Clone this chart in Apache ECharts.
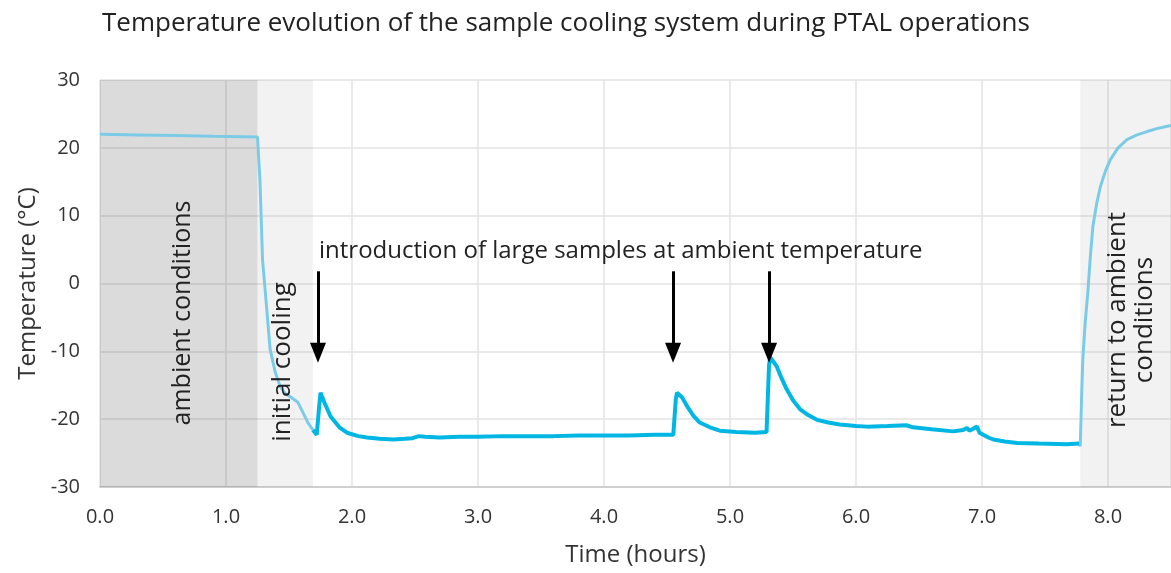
<!DOCTYPE html>
<html><head><meta charset="utf-8">
<script src="https://cdn.jsdelivr.net/npm/echarts@6/dist/echarts.min.js"></script>
<style>html,body{margin:0;padding:0;background:#fff}#c{width:1171px;height:573px}</style>
</head><body><div id="c"></div>
<script>
// Data (time in hours, temperature in °C)
var ambientCooling = [[0,22.0],[0.3,21.9],[0.6,21.8],[0.9,21.7],[1.25,21.6],[1.27,15],[1.29,3.5],[1.32,-3],[1.35,-9.7],[1.39,-13],[1.43,-15.2],[1.47,-16.2],[1.51,-16.7],[1.57,-17.5],[1.61,-19],[1.65,-20.5],[1.69,-21.6]];
var operations = [[1.69,-21.6],[1.72,-22.3],[1.74,-18],[1.75,-16.1],[1.78,-17.5],[1.83,-19.6],[1.9,-21.2],[1.96,-22],[2.05,-22.5],[2.12,-22.7],[2.22,-22.9],[2.33,-23],[2.42,-22.9],[2.48,-22.8],[2.53,-22.5],[2.58,-22.6],[2.7,-22.7],[2.85,-22.6],[3.0,-22.6],[3.2,-22.5],[3.4,-22.5],[3.6,-22.5],[3.8,-22.4],[4.0,-22.4],[4.2,-22.4],[4.4,-22.3],[4.55,-22.3],[4.57,-17],[4.58,-16.1],[4.62,-16.8],[4.66,-18.1],[4.71,-19.5],[4.76,-20.5],[4.84,-21.2],[4.92,-21.7],[5.05,-21.9],[5.2,-22],[5.29,-21.9],[5.31,-12],[5.32,-10.9],[5.37,-12.2],[5.41,-14],[5.45,-15.6],[5.5,-17.2],[5.56,-18.6],[5.62,-19.4],[5.69,-20.1],[5.78,-20.5],[5.87,-20.8],[6.0,-21],[6.09,-21.1],[6.25,-21],[6.4,-20.9],[6.45,-21.2],[6.6,-21.5],[6.77,-21.8],[6.85,-21.6],[6.88,-21.3],[6.9,-21.7],[6.93,-21.4],[6.96,-21.1],[6.98,-22],[7.01,-22.3],[7.05,-22.7],[7.09,-23],[7.18,-23.3],[7.28,-23.5],[7.45,-23.6],[7.67,-23.7],[7.77,-23.6]];
var returnAmbient = [[7.77,-23.6],[7.78,-24],[7.79,-17],[7.80,-11.2],[7.82,-5.5],[7.84,-1.3],[7.86,4],[7.88,8.4],[7.91,11.8],[7.94,14.3],[7.98,16.6],[8.02,18.3],[8.08,20],[8.15,21.2],[8.23,21.9],[8.31,22.4],[8.4,22.9],[8.5,23.3]];
var arrowTimes = [1.73, 4.548, 5.31];
var arrowTop = 1.8, arrowTip = -10.2;
var phases = [[0,1.25,'rgba(0,0,0,0.14)'],[1.25,1.69,'rgba(0,0,0,0.05)'],[7.78,8.5,'rgba(0,0,0,0.05)']];

var FONT = 'Open Sans';
var chart = echarts.init(document.getElementById('c'));
chart.setOption({
  animation:false,
  textStyle:{fontFamily:FONT},
  title:{text:'Temperature evolution of the sample cooling system during PTAL operations',left:97,top:6,
    textStyle:{fontFamily:FONT,fontSize:26,fontWeight:'normal',color:'#222'}},
  grid:{left:100,right:0,top:80,bottom:86},
  xAxis:{type:'value',min:0,max:8.5,interval:1,
    name:'Time (hours)',nameLocation:'middle',nameGap:56,nameTextStyle:{fontSize:24,color:'#333'},
    axisLine:{show:true,onZero:false,lineStyle:{color:'#d0d0d0',width:2}},axisTick:{show:false},
    axisLabel:{fontSize:20,color:'#333',margin:20,showMaxLabel:false,formatter:function(v){return v.toFixed(1);}},
    splitLine:{show:true,lineStyle:{color:'#e3e3e3',width:1.5}}},
  yAxis:{type:'value',min:-30,max:30,interval:10,
    name:'Temperature (°C)',nameLocation:'middle',nameGap:58,nameTextStyle:{fontSize:24,color:'#333'},
    axisLine:{show:false,onZero:false},axisTick:{show:false},
    axisLabel:{fontSize:20,color:'#333',margin:20},
    splitLine:{show:true,lineStyle:{color:'#e3e3e3',width:1.5}}},
  series:[
    {type:'line',data:ambientCooling,showSymbol:false,symbol:'none',lineStyle:{color:'#7ccbe6',width:3},z:3,
     markArea:{silent:true,data:phases.map(function(p){return [{xAxis:p[0],itemStyle:{color:p[2]}},{xAxis:p[1]}];}),z:1}},
    {type:'line',data:operations,showSymbol:false,symbol:'none',lineStyle:{color:'#00b6e3',width:4},z:4,
     markLine:{silent:true,symbol:['none','triangle'],symbolSize:[16,20],label:{show:false},
       lineStyle:{color:'#000',width:3,type:'solid'},
       data:arrowTimes.map(function(t){return [{coord:[t,arrowTop]},{coord:[t,arrowTip]}];})}},
    {type:'line',data:returnAmbient,showSymbol:false,symbol:'none',lineStyle:{color:'#7ccbe6',width:3},z:3}
  ],
  graphic:[
    {type:'text',x:183,y:313,rotation:Math.PI/2,style:{text:'ambient conditions',fontFamily:FONT,fontSize:25,fill:'#222',align:'center',verticalAlign:'middle'},z:10},
    {type:'text',x:283,y:362,rotation:Math.PI/2,style:{text:'initial cooling',fontFamily:FONT,fontSize:26,fill:'#222',align:'center',verticalAlign:'middle'},z:10},
    {type:'text',x:1131,y:320,rotation:Math.PI/2,style:{text:'return to ambient\nconditions',fontFamily:FONT,fontSize:26,lineHeight:27,fill:'#222',align:'center',verticalAlign:'middle'},z:10},
    {type:'text',x:319,y:251,style:{text:'introduction of large samples at ambient temperature',fontFamily:FONT,fontSize:24,fill:'#222',align:'left',verticalAlign:'middle'},z:10}
  ]
});
</script></body></html>
